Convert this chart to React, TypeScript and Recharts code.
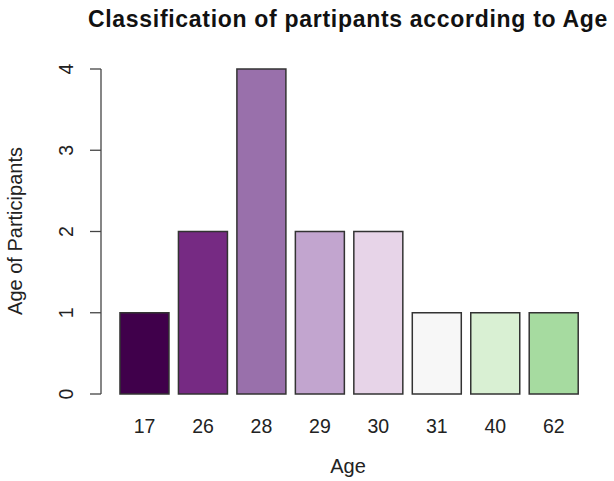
import React from "react";
import { BarChart, Bar, XAxis, YAxis, Cell } from "recharts";

const ages = ["17", "26", "28", "29", "30", "31", "40", "62"];
const counts = [1, 2, 4, 2, 2, 1, 1, 1];
const barColors = ["#40004B", "#762A83", "#9970AB", "#C2A5CF", "#E7D4E8", "#F7F7F7", "#D9F0D3", "#A6DBA0"];
const yTicks = [0, 1, 2, 3, 4];

const title = "Classification of partipants according to Age";
const xLabel = "Age";
const yLabel = "Age of Participants";

const data = ages.map((a, i) => ({ age: a, count: counts[i] }));

const FONT = "'Liberation Sans', Arial, Helvetica, sans-serif";

const YTick = (props: any) => {
  const { y, payload } = props;
  return (
    <text
      transform={`translate(73, ${y}) rotate(-90)`}
      textAnchor="middle"
      fontFamily={FONT}
      fontSize={19.5}
      fill="#222"
    >
      {payload.value}
    </text>
  );
};

const XTick = (props: any) => {
  const { x, payload } = props;
  return (
    <text x={x} y={433} textAnchor="middle" fontFamily={FONT} fontSize={19.5} fill="#222">
      {payload.value}
    </text>
  );
};

export default function App() {
  return (
    <div style={{ position: "absolute", left: 0, top: 0, width: 614, height: 481, background: "#fff" }}>
      <BarChart
        width={614}
        height={481}
        data={data}
        margin={{ top: 69, right: 31, bottom: 0, left: 0 }}
        barCategoryGap="8%"
      >
        <XAxis
          dataKey="age"
          axisLine={false}
          tickLine={false}
          height={87}
          padding={{ left: 14.3, right: 0 }}
          tick={<XTick />}
          interval={0}
          label={{
            content: () => (
              <text x={348} y={473} textAnchor="middle" fontFamily={FONT} fontSize={20} fill="#222">
                {xLabel}
              </text>
            ),
          }}
        />
        <YAxis
          domain={[0, 4]}
          ticks={yTicks}
          width={101}
          tickSize={11}
          stroke="#444"
          axisLine={{ stroke: "#444", strokeWidth: 1.3 }}
          tickLine={{ stroke: "#444", strokeWidth: 1.3 }}
          tick={<YTick />}
          interval={0}
          label={{
            content: () => (
              <text
                transform="translate(22, 231) rotate(-90)"
                textAnchor="middle"
                fontFamily={FONT}
                fontSize={20}
                fill="#222"
              >
                {yLabel}
              </text>
            ),
          }}
        />
        <Bar dataKey="count" isAnimationActive={false} stroke="#333" strokeWidth={1.5}>
          {data.map((d, i) => (
            <Cell key={d.age} fill={barColors[i]} />
          ))}
        </Bar>
      </BarChart>
      <svg
        width={614}
        height={60}
        style={{ position: "absolute", left: 0, top: 0, pointerEvents: "none" }}
      >
        <text
          x={348}
          y={27}
          textAnchor="middle"
          fontFamily={FONT}
          fontWeight="bold"
          fontSize={23}
          letterSpacing={0.7}
          fill="#111"
        >
          {title}
        </text>
      </svg>
    </div>
  );
}
